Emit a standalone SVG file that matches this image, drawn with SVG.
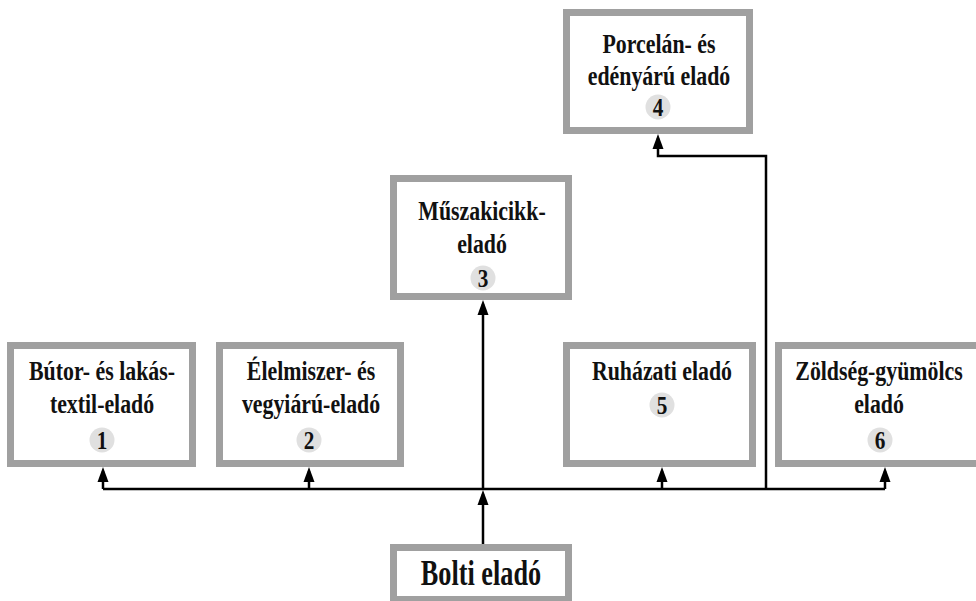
<svg xmlns="http://www.w3.org/2000/svg" width="976" height="601" viewBox="0 0 976 601">
<defs>
<style>
.box{fill:#fff;stroke:#a0a0a0;stroke-width:7}
.t{font-family:"Liberation Serif","Times New Roman",serif;font-weight:bold;font-size:28px;text-anchor:middle;fill:#111}
.big{font-size:35px}
.num{font-size:25px}
.badge{fill:#e0e0e0}
.c{fill:none;stroke:#000;stroke-width:2.5}
</style>
<marker id="ah" markerWidth="15" markerHeight="12" refX="11" refY="6" orient="auto" markerUnits="userSpaceOnUse" viewBox="0 0 15 12">
<path d="M0,0.5 L15,6 L0,11.5 Z" fill="#000"/>
</marker>
</defs>
<rect width="976" height="601" fill="#fff"/>

<g id="connectors">
<path class="c" d="M483,544 V494" marker-end="url(#ah)"/>
<path class="c" d="M483,489 V304" marker-end="url(#ah)"/>
<path class="c" d="M103,489 H885"/>
<path class="c" d="M103,489 V471" marker-end="url(#ah)"/>
<path class="c" d="M309,489 V471" marker-end="url(#ah)"/>
<path class="c" d="M662,489 V471" marker-end="url(#ah)"/>
<path class="c" d="M885,489 V471" marker-end="url(#ah)"/>
<path class="c" d="M766,489 V156 H658 V138" marker-end="url(#ah)"/>
</g>

<g id="n1">
<rect class="box" x="10.5" y="345.5" width="182" height="118"/>
<g transform="translate(102 0) scale(0.78 1)">
<text class="t" x="0" y="380">Bútor- és lakás-</text>
<text class="t" x="0" y="413">textil-eladó</text>
</g>
<circle class="badge" cx="102" cy="440" r="12.5"/>
<g transform="translate(102 0) scale(0.85 1)"><text class="t num" x="0" y="449">1</text></g>
</g>

<g id="n2">
<rect class="box" x="219.5" y="345.5" width="181" height="118"/>
<g transform="translate(311 0) scale(0.78 1)">
<text class="t" x="0" y="380">Élelmiszer- és</text>
<text class="t" x="0" y="413">vegyiárú-eladó</text>
</g>
<circle class="badge" cx="309" cy="440" r="12.5"/>
<g transform="translate(309 0) scale(0.85 1)"><text class="t num" x="0" y="449">2</text></g>
</g>

<g id="n3">
<rect class="box" x="393.5" y="178.5" width="175" height="118"/>
<g transform="translate(482 0) scale(0.78 1)">
<text class="t" x="0" y="220">Műszakicikk-</text>
<text class="t" x="0" y="253">eladó</text>
</g>
<circle class="badge" cx="483" cy="278" r="12.5"/>
<g transform="translate(483 0) scale(0.85 1)"><text class="t num" x="0" y="287">3</text></g>
</g>

<g id="n4">
<rect class="box" x="566.5" y="12.5" width="183" height="118"/>
<g transform="translate(659 0) scale(0.78 1)">
<text class="t" x="0" y="53">Porcelán- és</text>
<text class="t" x="0" y="85">edényárú eladó</text>
</g>
<circle class="badge" cx="658" cy="107" r="12.5"/>
<g transform="translate(658 0) scale(0.85 1)"><text class="t num" x="0" y="116">4</text></g>
</g>

<g id="n5">
<rect class="box" x="566.5" y="345.5" width="186" height="118"/>
<g transform="translate(662 0) scale(0.78 1)">
<text class="t" x="0" y="380">Ruházati eladó</text>
</g>
<circle class="badge" cx="662" cy="405" r="12.5"/>
<g transform="translate(662 0) scale(0.85 1)"><text class="t num" x="0" y="414">5</text></g>
</g>

<g id="n6">
<rect class="box" x="778.5" y="345.5" width="204" height="118"/>
<g transform="translate(879 0) scale(0.78 1)">
<text class="t" x="0" y="380">Zöldség-gyümölcs</text>
<text class="t" x="0" y="413">eladó</text>
</g>
<circle class="badge" cx="880" cy="440" r="12.5"/>
<g transform="translate(880 0) scale(0.85 1)"><text class="t num" x="0" y="449">6</text></g>
</g>

<g id="n0">
<rect class="box" x="393.5" y="547.5" width="175" height="52"/>
<g transform="translate(481 0) scale(0.75 1)">
<text class="t big" x="0" y="585">Bolti eladó</text>
</g>
</g>
</svg>
